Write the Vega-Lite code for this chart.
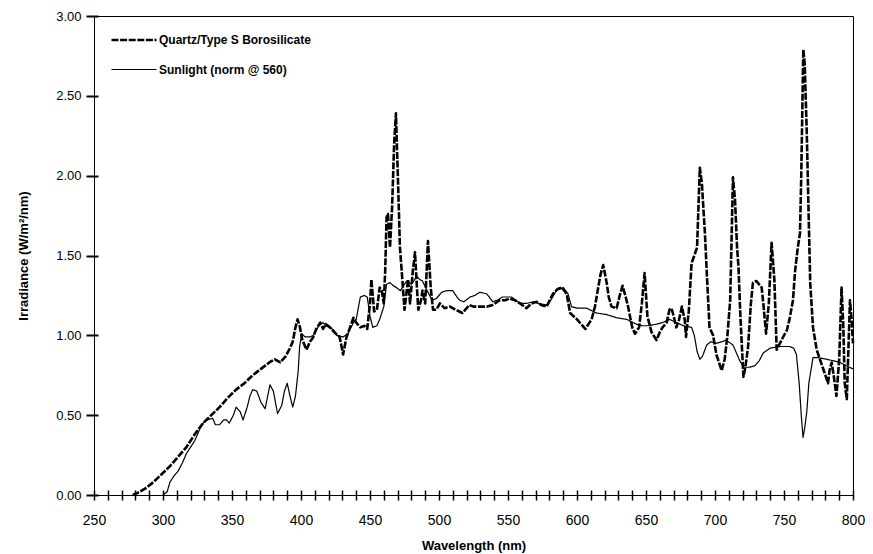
{
"$schema":"https://vega.github.io/schema/vega-lite/v6.json",
"width":759,"height":479,
"autosize":{"type":"none"},
"padding":{"top":16,"left":94,"right":20,"bottom":59},
"background":"white",
"config":{"view":{"stroke":"black","strokeWidth":1},"font":"Liberation Sans"},
"datasets":{
"d":[
{"s":"Q","wl":278,"v":0},{"s":"Q","wl":281,"v":0.01},{"s":"Q","wl":287,"v":0.04},{"s":"Q","wl":293,"v":0.08},{"s":"Q","wl":299,"v":0.13},{"s":"Q","wl":305,"v":0.18},{"s":"Q","wl":311,"v":0.24},{"s":"Q","wl":317,"v":0.30},{"s":"Q","wl":323,"v":0.38},{"s":"Q","wl":329,"v":0.45},{"s":"Q","wl":335,"v":0.50},{"s":"Q","wl":341,"v":0.55},{"s":"Q","wl":347,"v":0.61},{"s":"Q","wl":353,"v":0.66},{"s":"Q","wl":359,"v":0.70},{"s":"Q","wl":365,"v":0.75},{"s":"Q","wl":371,"v":0.79},{"s":"Q","wl":377,"v":0.83},{"s":"Q","wl":381,"v":0.85},{"s":"Q","wl":385,"v":0.83},{"s":"Q","wl":389,"v":0.87},{"s":"Q","wl":392,"v":0.92},{"s":"Q","wl":394,"v":0.96},{"s":"Q","wl":396,"v":1.05},{"s":"Q","wl":397.5,"v":1.10},{"s":"Q","wl":399,"v":1.06},{"s":"Q","wl":401,"v":0.97},{"s":"Q","wl":404,"v":0.91},{"s":"Q","wl":406.5,"v":0.96},{"s":"Q","wl":409,"v":0.99},{"s":"Q","wl":411,"v":1.04},{"s":"Q","wl":414,"v":1.08},{"s":"Q","wl":416,"v":1.04},{"s":"Q","wl":418,"v":1.07},{"s":"Q","wl":421,"v":1.05},{"s":"Q","wl":424,"v":1.02},{"s":"Q","wl":428,"v":0.99},{"s":"Q","wl":430.5,"v":0.88},{"s":"Q","wl":433,"v":0.99},{"s":"Q","wl":436,"v":1.06},{"s":"Q","wl":438,"v":1.11},{"s":"Q","wl":440,"v":1.08},{"s":"Q","wl":443,"v":1.05},{"s":"Q","wl":446,"v":1.06},{"s":"Q","wl":448,"v":1.04},{"s":"Q","wl":450,"v":1.20},{"s":"Q","wl":451,"v":1.35},{"s":"Q","wl":453,"v":1.15},{"s":"Q","wl":455,"v":1.16},{"s":"Q","wl":457,"v":1.30},{"s":"Q","wl":458.5,"v":1.28},{"s":"Q","wl":460,"v":1.20},{"s":"Q","wl":461,"v":1.40},{"s":"Q","wl":462,"v":1.74},{"s":"Q","wl":463,"v":1.76},{"s":"Q","wl":464.5,"v":1.55},{"s":"Q","wl":466,"v":1.80},{"s":"Q","wl":467.5,"v":2.20},{"s":"Q","wl":468.8,"v":2.39},{"s":"Q","wl":470,"v":2.05},{"s":"Q","wl":471.7,"v":1.55},{"s":"Q","wl":473,"v":1.40},{"s":"Q","wl":475,"v":1.16},{"s":"Q","wl":477.6,"v":1.35},{"s":"Q","wl":479,"v":1.20},{"s":"Q","wl":481,"v":1.40},{"s":"Q","wl":482.6,"v":1.52},{"s":"Q","wl":484,"v":1.30},{"s":"Q","wl":485,"v":1.16},{"s":"Q","wl":487,"v":1.22},{"s":"Q","wl":488,"v":1.28},{"s":"Q","wl":490,"v":1.20},{"s":"Q","wl":492,"v":1.59},{"s":"Q","wl":494,"v":1.30},{"s":"Q","wl":495.7,"v":1.16},{"s":"Q","wl":498,"v":1.16},{"s":"Q","wl":500.7,"v":1.20},{"s":"Q","wl":504,"v":1.17},{"s":"Q","wl":508,"v":1.18},{"s":"Q","wl":512,"v":1.16},{"s":"Q","wl":517,"v":1.14},{"s":"Q","wl":519,"v":1.16},{"s":"Q","wl":522,"v":1.19},{"s":"Q","wl":525,"v":1.18},{"s":"Q","wl":530,"v":1.18},{"s":"Q","wl":535,"v":1.18},{"s":"Q","wl":539,"v":1.19},{"s":"Q","wl":544,"v":1.22},{"s":"Q","wl":548,"v":1.22},{"s":"Q","wl":551,"v":1.23},{"s":"Q","wl":555,"v":1.22},{"s":"Q","wl":558.7,"v":1.20},{"s":"Q","wl":563.5,"v":1.17},{"s":"Q","wl":567,"v":1.20},{"s":"Q","wl":570.7,"v":1.21},{"s":"Q","wl":574,"v":1.19},{"s":"Q","wl":578,"v":1.18},{"s":"Q","wl":582.6,"v":1.26},{"s":"Q","wl":586,"v":1.29},{"s":"Q","wl":589,"v":1.30},{"s":"Q","wl":592.5,"v":1.26},{"s":"Q","wl":595,"v":1.14},{"s":"Q","wl":600,"v":1.10},{"s":"Q","wl":603,"v":1.07},{"s":"Q","wl":606,"v":1.04},{"s":"Q","wl":610.6,"v":1.10},{"s":"Q","wl":613,"v":1.18},{"s":"Q","wl":615,"v":1.28},{"s":"Q","wl":617,"v":1.38},{"s":"Q","wl":619,"v":1.44},{"s":"Q","wl":621.5,"v":1.33},{"s":"Q","wl":623,"v":1.24},{"s":"Q","wl":625,"v":1.18},{"s":"Q","wl":628.7,"v":1.17},{"s":"Q","wl":631,"v":1.25},{"s":"Q","wl":633,"v":1.31},{"s":"Q","wl":635,"v":1.25},{"s":"Q","wl":637,"v":1.18},{"s":"Q","wl":640,"v":1.05},{"s":"Q","wl":642,"v":1.01},{"s":"Q","wl":645,"v":1.05},{"s":"Q","wl":647,"v":1.20},{"s":"Q","wl":649,"v":1.39},{"s":"Q","wl":651,"v":1.12},{"s":"Q","wl":654,"v":1.02},{"s":"Q","wl":657.6,"v":0.97},{"s":"Q","wl":660,"v":1.02},{"s":"Q","wl":662,"v":1.05},{"s":"Q","wl":665,"v":1.08},{"s":"Q","wl":667,"v":1.16},{"s":"Q","wl":668.5,"v":1.17},{"s":"Q","wl":670.6,"v":1.10},{"s":"Q","wl":672,"v":1.05},{"s":"Q","wl":674,"v":1.10},{"s":"Q","wl":676,"v":1.18},{"s":"Q","wl":678,"v":1.10},{"s":"Q","wl":679,"v":0.99},{"s":"Q","wl":681,"v":1.15},{"s":"Q","wl":683,"v":1.45},{"s":"Q","wl":685,"v":1.50},{"s":"Q","wl":687,"v":1.55},{"s":"Q","wl":689,"v":2.05},{"s":"Q","wl":690.5,"v":1.95},{"s":"Q","wl":692.7,"v":1.64},{"s":"Q","wl":694,"v":1.40},{"s":"Q","wl":696,"v":1.05},{"s":"Q","wl":698.6,"v":1.00},{"s":"Q","wl":701,"v":0.88},{"s":"Q","wl":704.8,"v":0.78},{"s":"Q","wl":707,"v":0.85},{"s":"Q","wl":709,"v":1.00},{"s":"Q","wl":711,"v":1.22},{"s":"Q","wl":712,"v":1.60},{"s":"Q","wl":713,"v":1.99},{"s":"Q","wl":714.5,"v":1.85},{"s":"Q","wl":716,"v":1.55},{"s":"Q","wl":717,"v":1.43},{"s":"Q","wl":718.5,"v":1.10},{"s":"Q","wl":720.6,"v":0.74},{"s":"Q","wl":722,"v":0.80},{"s":"Q","wl":724,"v":0.93},{"s":"Q","wl":726,"v":1.20},{"s":"Q","wl":727.5,"v":1.33},{"s":"Q","wl":730,"v":1.34},{"s":"Q","wl":733.8,"v":1.30},{"s":"Q","wl":735,"v":1.20},{"s":"Q","wl":737,"v":1.01},{"s":"Q","wl":739,"v":1.20},{"s":"Q","wl":741,"v":1.58},{"s":"Q","wl":743,"v":1.35},{"s":"Q","wl":744.7,"v":0.91},{"s":"Q","wl":747,"v":0.95},{"s":"Q","wl":750,"v":1.00},{"s":"Q","wl":752,"v":1.03},{"s":"Q","wl":754,"v":1.10},{"s":"Q","wl":756.5,"v":1.22},{"s":"Q","wl":758,"v":1.40},{"s":"Q","wl":760,"v":1.55},{"s":"Q","wl":761.6,"v":1.64},{"s":"Q","wl":762.5,"v":2.00},{"s":"Q","wl":764,"v":2.79},{"s":"Q","wl":765,"v":2.70},{"s":"Q","wl":766.5,"v":2.27},{"s":"Q","wl":768,"v":1.70},{"s":"Q","wl":769,"v":1.33},{"s":"Q","wl":771,"v":1.05},{"s":"Q","wl":773.7,"v":0.91},{"s":"Q","wl":776,"v":0.85},{"s":"Q","wl":778,"v":0.80},{"s":"Q","wl":780,"v":0.75},{"s":"Q","wl":781.9,"v":0.70},{"s":"Q","wl":783,"v":0.78},{"s":"Q","wl":784.5,"v":0.83},{"s":"Q","wl":786,"v":0.75},{"s":"Q","wl":788,"v":0.62},{"s":"Q","wl":790,"v":0.85},{"s":"Q","wl":791.7,"v":1.30},{"s":"Q","wl":793,"v":1.05},{"s":"Q","wl":794,"v":0.70},{"s":"Q","wl":795.5,"v":0.60},{"s":"Q","wl":797,"v":1.00},{"s":"Q","wl":797.8,"v":1.22},{"s":"Q","wl":799,"v":1.10},{"s":"Q","wl":800,"v":0.95},
{"s":"S","wl":300,"v":0},{"s":"S","wl":303,"v":0.02},{"s":"S","wl":305,"v":0.08},{"s":"S","wl":308,"v":0.12},{"s":"S","wl":311,"v":0.15},{"s":"S","wl":314,"v":0.20},{"s":"S","wl":317,"v":0.26},{"s":"S","wl":320,"v":0.30},{"s":"S","wl":323,"v":0.34},{"s":"S","wl":327,"v":0.42},{"s":"S","wl":329,"v":0.45},{"s":"S","wl":332,"v":0.47},{"s":"S","wl":336,"v":0.48},{"s":"S","wl":338,"v":0.44},{"s":"S","wl":341,"v":0.44},{"s":"S","wl":344,"v":0.47},{"s":"S","wl":346,"v":0.47},{"s":"S","wl":348,"v":0.45},{"s":"S","wl":351,"v":0.50},{"s":"S","wl":353,"v":0.55},{"s":"S","wl":356,"v":0.52},{"s":"S","wl":358,"v":0.47},{"s":"S","wl":361,"v":0.55},{"s":"S","wl":363,"v":0.62},{"s":"S","wl":365,"v":0.66},{"s":"S","wl":368,"v":0.65},{"s":"S","wl":371,"v":0.58},{"s":"S","wl":374,"v":0.54},{"s":"S","wl":377.5,"v":0.69},{"s":"S","wl":380,"v":0.65},{"s":"S","wl":383,"v":0.51},{"s":"S","wl":386,"v":0.56},{"s":"S","wl":388,"v":0.65},{"s":"S","wl":390,"v":0.70},{"s":"S","wl":392,"v":0.62},{"s":"S","wl":394,"v":0.55},{"s":"S","wl":396,"v":0.62},{"s":"S","wl":398,"v":0.78},{"s":"S","wl":399,"v":0.93},{"s":"S","wl":400.5,"v":1.01},{"s":"S","wl":403,"v":0.99},{"s":"S","wl":406.5,"v":0.99},{"s":"S","wl":409,"v":1.00},{"s":"S","wl":411,"v":1.03},{"s":"S","wl":413,"v":1.06},{"s":"S","wl":416,"v":1.08},{"s":"S","wl":418,"v":1.06},{"s":"S","wl":421,"v":1.05},{"s":"S","wl":424,"v":1.03},{"s":"S","wl":426,"v":1.00},{"s":"S","wl":430.5,"v":0.99},{"s":"S","wl":434,"v":1.01},{"s":"S","wl":438,"v":1.08},{"s":"S","wl":440,"v":1.10},{"s":"S","wl":443,"v":1.24},{"s":"S","wl":446,"v":1.25},{"s":"S","wl":448,"v":1.24},{"s":"S","wl":450,"v":1.12},{"s":"S","wl":452,"v":1.05},{"s":"S","wl":455,"v":1.06},{"s":"S","wl":457,"v":1.10},{"s":"S","wl":460,"v":1.18},{"s":"S","wl":462,"v":1.32},{"s":"S","wl":464.5,"v":1.33},{"s":"S","wl":467,"v":1.31},{"s":"S","wl":469,"v":1.30},{"s":"S","wl":472,"v":1.28},{"s":"S","wl":476.5,"v":1.34},{"s":"S","wl":480,"v":1.32},{"s":"S","wl":484,"v":1.37},{"s":"S","wl":486,"v":1.35},{"s":"S","wl":488,"v":1.34},{"s":"S","wl":492,"v":1.27},{"s":"S","wl":495,"v":1.22},{"s":"S","wl":498,"v":1.23},{"s":"S","wl":502,"v":1.27},{"s":"S","wl":505.5,"v":1.28},{"s":"S","wl":510,"v":1.28},{"s":"S","wl":513,"v":1.24},{"s":"S","wl":515,"v":1.22},{"s":"S","wl":518,"v":1.21},{"s":"S","wl":522.5,"v":1.24},{"s":"S","wl":526,"v":1.25},{"s":"S","wl":529.7,"v":1.27},{"s":"S","wl":534.6,"v":1.26},{"s":"S","wl":539,"v":1.21},{"s":"S","wl":542,"v":1.22},{"s":"S","wl":546,"v":1.24},{"s":"S","wl":549,"v":1.24},{"s":"S","wl":552.6,"v":1.24},{"s":"S","wl":557,"v":1.21},{"s":"S","wl":560,"v":1.20},{"s":"S","wl":563.5,"v":1.20},{"s":"S","wl":568,"v":1.21},{"s":"S","wl":572,"v":1.20},{"s":"S","wl":578,"v":1.19},{"s":"S","wl":581,"v":1.22},{"s":"S","wl":585,"v":1.28},{"s":"S","wl":590,"v":1.30},{"s":"S","wl":593.5,"v":1.26},{"s":"S","wl":596,"v":1.18},{"s":"S","wl":600,"v":1.17},{"s":"S","wl":607,"v":1.17},{"s":"S","wl":614,"v":1.14},{"s":"S","wl":621.5,"v":1.13},{"s":"S","wl":628.7,"v":1.11},{"s":"S","wl":636,"v":1.10},{"s":"S","wl":643,"v":1.07},{"s":"S","wl":647.5,"v":1.06},{"s":"S","wl":652,"v":1.06},{"s":"S","wl":657.6,"v":1.07},{"s":"S","wl":662,"v":1.08},{"s":"S","wl":667,"v":1.10},{"s":"S","wl":672,"v":1.08},{"s":"S","wl":677,"v":1.06},{"s":"S","wl":683,"v":1.05},{"s":"S","wl":685,"v":1.00},{"s":"S","wl":687,"v":0.90},{"s":"S","wl":689,"v":0.85},{"s":"S","wl":691,"v":0.87},{"s":"S","wl":694,"v":0.94},{"s":"S","wl":697,"v":0.96},{"s":"S","wl":701,"v":0.95},{"s":"S","wl":705,"v":0.96},{"s":"S","wl":708,"v":0.97},{"s":"S","wl":713,"v":0.94},{"s":"S","wl":716,"v":0.88},{"s":"S","wl":718,"v":0.84},{"s":"S","wl":721,"v":0.80},{"s":"S","wl":725,"v":0.80},{"s":"S","wl":729,"v":0.81},{"s":"S","wl":732,"v":0.84},{"s":"S","wl":735,"v":0.89},{"s":"S","wl":740,"v":0.92},{"s":"S","wl":747,"v":0.93},{"s":"S","wl":754,"v":0.93},{"s":"S","wl":757,"v":0.92},{"s":"S","wl":759,"v":0.88},{"s":"S","wl":761,"v":0.70},{"s":"S","wl":762.5,"v":0.50},{"s":"S","wl":763.8,"v":0.36},{"s":"S","wl":765,"v":0.42},{"s":"S","wl":766.5,"v":0.52},{"s":"S","wl":768,"v":0.70},{"s":"S","wl":771,"v":0.86},{"s":"S","wl":775,"v":0.86},{"s":"S","wl":781,"v":0.85},{"s":"S","wl":786,"v":0.84},{"s":"S","wl":790.6,"v":0.83},{"s":"S","wl":795,"v":0.81},{"s":"S","wl":800,"v":0.79}
]
},
"layer":[
{"data":{"name":"d"},"mark":{"type":"line","color":"black","strokeJoin":"round"},
 "encoding":{
  "x":{"field":"wl","type":"quantitative","scale":{"domain":[250,800],"nice":false,"zero":false},
   "axis":{"orient":"bottom","offset":-5,"tickCount":200,"values":[250,260,270,280,290,300,310,320,330,340,350,360,370,380,390,400,410,420,430,440,450,460,470,480,490,500,510,520,530,540,550,560,570,580,590,600,610,620,630,640,650,660,670,680,690,700,710,720,730,740,750,760,770,780,790,800],
    "labelExpr":"datum.value % 50 === 0 ? datum.label : ''","labelOverlap":false,"labelFlush":false,
    "ticks":true,"tickSize":10,"tickWidth":1.5,"tickColor":"black","domain":false,"grid":false,
    "labelFontSize":14,"labelColor":"black","labelPadding":13,"labelFont":"Liberation Sans",
    "title":"Wavelength (nm)","titleFontSize":13,"titleFontWeight":"bold","titleColor":"black","titlePadding":12}},
  "y":{"field":"v","type":"quantitative","scale":{"domain":[0,3],"nice":false},
   "axis":{"orient":"left","offset":-4,"tickCount":50,"values":[0,0.5,1,1.5,2,2.5,3],"format":".2f","ticks":true,"tickSize":12,"tickWidth":2,"tickColor":"black","tickOpacity":1,"domain":false,"grid":false,
    "labelFontSize":13,"labelColor":"black","labelPadding":5,
    "title":"Irradiance (W/m²/nm)","titleFontSize":13,"titleFontWeight":"bold","titleColor":"black","titlePadding":25}},
  "strokeDash":{"field":"s","type":"nominal","scale":{"domain":["Q","S"],"range":[[7,1.6],[1,0]]},
   "legend":{"title":null,"orient":"none","legendX":16,"legendY":0,"symbolType":"stroke","symbolSize":2025,"symbolStrokeColor":"black","symbolStrokeWidth":1.8,"labelFontSize":12,"labelFontWeight":"bold","labelColor":"black","labelOffset":1,"rowPadding":-21,"labelExpr":"datum.value === 'Q' ? 'Quartz/Type S Borosilicate' : 'Sunlight (norm @ 560)'"}},
  "strokeWidth":{"field":"s","type":"nominal","scale":{"domain":["Q","S"],"range":[2.6,1.2]},"legend":null}
 }},
{"mark":{"type":"rule","color":"black","strokeWidth":2.5},"encoding":{"y":{"datum":0}}},
{"mark":{"type":"rule","color":"black","strokeWidth":2.5},"encoding":{"x":{"datum":250}}}
]
}
